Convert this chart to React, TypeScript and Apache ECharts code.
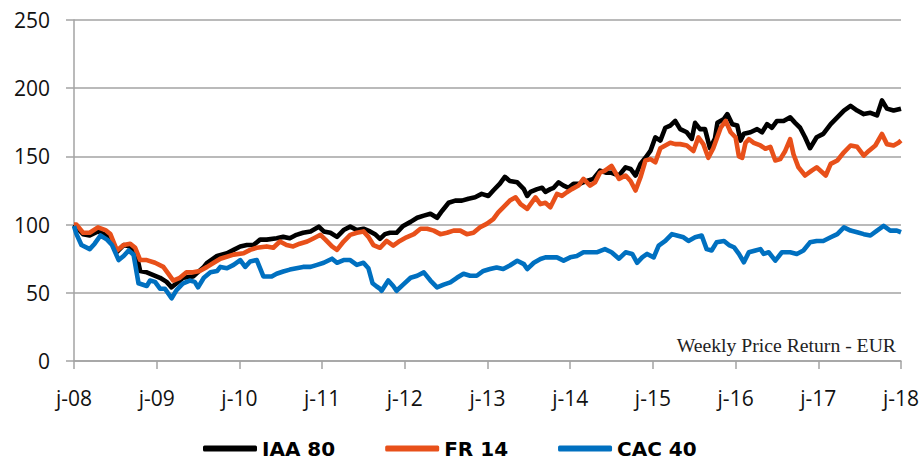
import React, { useEffect, useRef } from "react";
import * as echarts from "echarts";

// x labels: one per January, 2008..2018
const xTickLabels = ["j-08", "j-09", "j-10", "j-11", "j-12", "j-13", "j-14", "j-15", "j-16", "j-17", "j-18"];
const startYear = 2008;

// IAA 80 — time in years since Jan 2008, value
const iaaT = [0, 0.11, 0.19, 0.29, 0.4, 0.52, 0.6, 0.68, 0.76, 0.8, 0.88, 0.96, 1.04, 1.12, 1.18, 1.24, 1.32, 1.44, 1.57, 1.61, 1.73, 1.85, 1.93, 2.01, 2.09, 2.17, 2.25, 2.33, 2.45, 2.53, 2.61, 2.69, 2.77, 2.86, 2.96, 3.02, 3.1, 3.18, 3.26, 3.34, 3.42, 3.5, 3.58, 3.64, 3.7, 3.76, 3.82, 3.9, 3.98, 4.07, 4.15, 4.23, 4.31, 4.39, 4.45, 4.53, 4.61, 4.69, 4.77, 4.85, 4.93, 5.01, 5.07, 5.15, 5.21, 5.27, 5.36, 5.44, 5.48, 5.52, 5.6, 5.66, 5.7, 5.76, 5.8, 5.86, 5.92, 5.98, 6.04, 6.12, 6.2, 6.28, 6.36, 6.44, 6.5, 6.59, 6.67, 6.73, 6.79, 6.85, 6.91, 6.97, 7.03, 7.09, 7.15, 7.21, 7.27, 7.33, 7.41, 7.47, 7.51, 7.57, 7.63, 7.69, 7.75, 7.78, 7.86, 7.9, 7.96, 8.02, 8.06, 8.1, 8.18, 8.26, 8.32, 8.38, 8.44, 8.5, 8.58, 8.66, 8.72, 8.78, 8.84, 8.9, 8.98, 9.06, 9.15, 9.23, 9.31, 9.39, 9.47, 9.55, 9.63, 9.71, 9.77, 9.83, 9.91, 10];
const iaaV = [100, 93, 92, 95, 92, 80, 85, 84, 77, 66, 65, 63, 61, 58, 54, 57, 61, 62, 69, 72, 77, 79, 81.5, 84, 85, 85, 89, 89, 90, 91, 90, 92.5, 94, 95, 98.5, 95, 94, 91, 96, 98.5, 96, 97, 95, 93, 89.5, 93, 94, 94, 99, 102, 105, 106.6, 108, 105, 110, 116, 117.6, 117.6, 119, 120, 122.5, 121, 125, 130, 135, 132, 131, 126, 121, 124, 126, 127, 124, 126, 127, 131, 128.6, 127, 130, 130, 132, 133.5, 139.6, 138, 138, 136, 142, 140.8, 136, 144.5, 149, 154, 164, 161.6, 171, 172.6, 176, 170, 167.7, 162.8, 174.6, 170, 170, 156, 163, 174.6, 177.5, 181, 173.6, 172.6, 161.6, 166.6, 167.7, 170, 167.7, 173.6, 171, 176, 176, 178.6, 174.6, 171, 164, 156, 164, 166.5, 173.6, 178.6, 183.6, 187, 183.6, 181, 182, 180, 191, 185, 183.6, 185];

// FR 14
const frT = [0, 0.03, 0.11, 0.19, 0.29, 0.38, 0.44, 0.52, 0.6, 0.68, 0.74, 0.8, 0.88, 0.98, 1.08, 1.14, 1.2, 1.28, 1.36, 1.44, 1.52, 1.61, 1.69, 1.77, 1.93, 2.05, 2.13, 2.21, 2.33, 2.41, 2.49, 2.57, 2.65, 2.73, 2.82, 2.9, 2.98, 3.04, 3.12, 3.18, 3.26, 3.34, 3.42, 3.5, 3.56, 3.62, 3.7, 3.78, 3.86, 3.94, 4.02, 4.11, 4.19, 4.27, 4.35, 4.43, 4.51, 4.59, 4.67, 4.75, 4.83, 4.91, 4.99, 5.07, 5.13, 5.19, 5.27, 5.34, 5.4, 5.48, 5.58, 5.64, 5.7, 5.76, 5.84, 5.9, 5.96, 6.02, 6.1, 6.16, 6.24, 6.3, 6.36, 6.42, 6.5, 6.59, 6.67, 6.73, 6.79, 6.85, 6.91, 6.97, 7.03, 7.09, 7.15, 7.21, 7.27, 7.33, 7.41, 7.49, 7.55, 7.61, 7.67, 7.73, 7.82, 7.88, 7.94, 8, 8.04, 8.08, 8.12, 8.16, 8.22, 8.3, 8.36, 8.42, 8.48, 8.54, 8.6, 8.66, 8.7, 8.76, 8.84, 8.92, 8.98, 9.09, 9.15, 9.23, 9.31, 9.39, 9.47, 9.55, 9.61, 9.69, 9.77, 9.83, 9.91, 9.97, 10];
const frV = [100, 100, 94, 94, 98, 96, 93, 81, 85, 86, 83, 74, 74, 72, 69, 64, 59, 61, 65, 65, 66, 69, 72, 75, 78, 79, 81.5, 83, 84, 83, 87.6, 85, 84, 86, 87.6, 90, 92.5, 89, 84, 81.5, 87.6, 92.5, 94, 95, 91, 85, 83, 88, 84.6, 88, 90.7, 93, 97, 97, 95.6, 93, 94, 95.6, 95.6, 93, 94, 98, 100.5, 104, 109, 112.7, 117.6, 120, 115, 111.5, 120, 115, 116, 112.7, 122.5, 121, 123.7, 126, 128.6, 133.5, 128.6, 131, 138, 139.6, 143, 133.5, 136, 132, 125, 134.7, 147, 148, 145.7, 156, 158, 160, 159, 159, 158, 154, 164, 159, 149, 156, 171, 176, 167.7, 164, 150, 149, 160, 162.6, 160, 158, 155.6, 157, 147, 148, 154, 162.6, 151.6, 142, 136, 139.6, 142, 136, 144.5, 147, 153, 158, 157, 150.6, 154, 158, 166.5, 159, 158, 160, 161.6];

// CAC 40
const cacT = [0, 0.03, 0.09, 0.19, 0.25, 0.32, 0.4, 0.46, 0.54, 0.6, 0.66, 0.72, 0.78, 0.88, 0.92, 0.98, 1.04, 1.1, 1.18, 1.24, 1.32, 1.4, 1.46, 1.5, 1.57, 1.65, 1.73, 1.77, 1.85, 1.93, 2.01, 2.07, 2.13, 2.21, 2.29, 2.33, 2.39, 2.45, 2.53, 2.61, 2.69, 2.77, 2.86, 2.94, 3.02, 3.12, 3.18, 3.26, 3.34, 3.42, 3.5, 3.56, 3.61, 3.66, 3.7, 3.72, 3.8, 3.86, 3.9, 3.98, 4.07, 4.15, 4.23, 4.31, 4.39, 4.47, 4.55, 4.63, 4.71, 4.79, 4.87, 4.95, 5.03, 5.11, 5.19, 5.27, 5.36, 5.44, 5.48, 5.56, 5.64, 5.7, 5.76, 5.84, 5.92, 6, 6.08, 6.16, 6.24, 6.32, 6.42, 6.5, 6.59, 6.67, 6.75, 6.81, 6.87, 6.93, 7.01, 7.07, 7.15, 7.23, 7.29, 7.37, 7.43, 7.51, 7.59, 7.65, 7.71, 7.77, 7.86, 7.92, 7.98, 8.04, 8.1, 8.16, 8.24, 8.3, 8.34, 8.4, 8.48, 8.56, 8.66, 8.74, 8.82, 8.9, 8.98, 9.06, 9.15, 9.23, 9.31, 9.39, 9.47, 9.55, 9.63, 9.71, 9.79, 9.87, 9.95, 10];
const cacV = [99, 93, 85, 82, 86, 92, 89, 85, 74, 77, 81, 78, 57, 55, 59, 58, 53, 53, 46, 52, 57, 59, 58, 54, 61, 65, 66, 69, 68, 70.5, 74, 69, 73, 74, 62, 62, 62, 64, 65.6, 67, 68, 69, 69, 70.5, 72, 75, 72, 74, 74, 70.5, 72, 68, 57, 54.6, 53, 51.5, 59, 55, 51.5, 56, 61, 62.5, 65, 59, 54, 56, 57.6, 61, 64, 62.5, 62.5, 66, 67.4, 68.6, 67.4, 70, 73.5, 71, 67.4, 72, 74.8, 76, 76, 76, 73.6, 76, 77, 79.7, 79.7, 79.7, 82, 79.7, 75, 79.7, 78.5, 72, 76, 78.5, 76, 84.6, 88, 93, 92, 90.7, 88, 90.7, 92, 82, 81, 87, 88, 85, 83.4, 78.5, 72.4, 79.7, 81, 82, 78.5, 79.7, 73.6, 79.7, 79.7, 78.5, 81, 87, 88, 88, 90.7, 93, 98, 95.6, 94.4, 93, 92, 95.6, 99, 95.6, 95.6, 94.4];

const seriesNames = ["IAA 80", "FR 14", "CAC 40"];
const seriesColors = ["#000000", "#E8501A", "#0070C0"];
const noteText = "Weekly Price Return - EUR";

const toPairs = (t: number[], v: number[]) => t.map((x, i) => [startYear + x, v[i]]);

export default function App() {
  const ref = useRef<HTMLDivElement>(null);
  useEffect(() => {
    const chart = echarts.init(ref.current!, null, { renderer: "svg" });
    const gray = "#a3a3a3";
    const lbl = { color: "#111", fontSize: 21, fontFamily: "'Open Sans', sans-serif" };
    const sets = [toPairs(iaaT, iaaV), toPairs(frT, frV), toPairs(cacT, cacV)];
    chart.setOption({
      animation: false,
      grid: { left: 74, right: 22, top: 20, bottom: 100, containLabel: false },
      xAxis: {
        type: "value",
        min: 2008,
        max: 2018,
        interval: 1,
        axisLine: { show: true, lineStyle: { color: gray, width: 1.5 } },
        axisTick: { show: true, length: 8, lineStyle: { color: gray, width: 1.5 } },
        splitLine: { show: false },
        axisLabel: {
          ...lbl,
          margin: 26,
          formatter: (v: number) => xTickLabels[Math.round(v - startYear)] ?? "",
        },
      },
      yAxis: {
        type: "value",
        min: 0,
        max: 250,
        interval: 50,
        axisLine: { show: true, lineStyle: { color: gray, width: 1.5 } },
        axisTick: { show: true, length: 8, lineStyle: { color: gray, width: 1.5 } },
        splitLine: { show: true, lineStyle: { color: gray, width: 1.5 } },
        axisLabel: { ...lbl, margin: 24 },
      },
      legend: {
        data: seriesNames,
        left: 203,
        top: 438,
        padding: 0,
        icon: "roundRect",
        itemWidth: 54,
        itemHeight: 6,
        itemGap: 50,
        textStyle: { color: "#000", fontSize: 20, lineHeight: 21, fontWeight: "bold", fontFamily: "'DejaVu Sans', sans-serif" },
      },
      graphic: [
        {
          type: "text",
          right: 27,
          top: 335,
          style: { text: noteText, font: "19.7px 'Liberation Serif', serif", fill: "#222" },
        },
      ],
      series: seriesNames.map((name, i) => ({
        name,
        type: "line",
        data: sets[i],
        showSymbol: false,
        symbol: "none",
        lineStyle: { width: 4.6, color: seriesColors[i], join: "round" },
        itemStyle: { color: seriesColors[i] },
        z: 2 + i,
      })),
    });
    return () => chart.dispose();
  }, []);
  return <div ref={ref} style={{ position: "absolute", left: 0, top: 0, width: 923, height: 461 }} />;
}
